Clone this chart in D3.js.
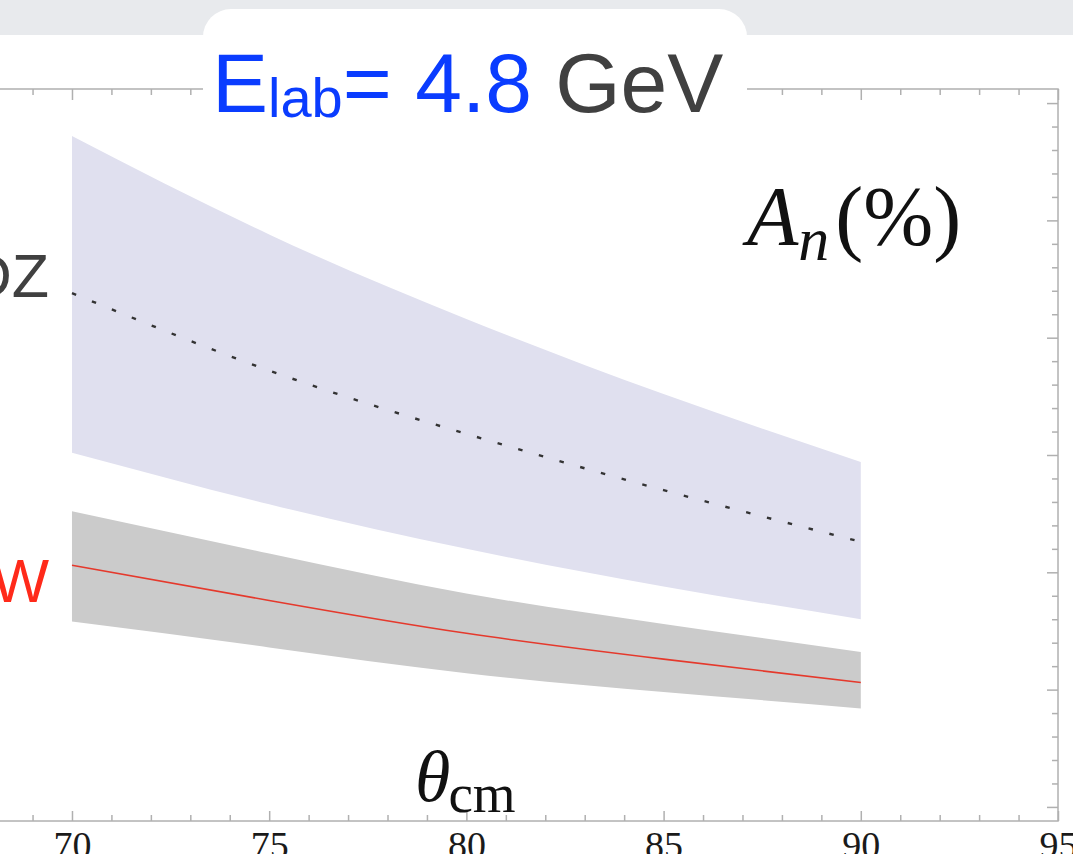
<!DOCTYPE html>
<html>
<head>
<meta charset="utf-8">
<script src="https://cdn.jsdelivr.net/npm/d3@7"></script>
<style>
  body { margin: 0; background: #fff; }
  svg { display: block; }
</style>
</head>
<body>
<div id="chart"></div>
<script>
// angle grid and the two bands
var thetaVals = [70, 75, 80, 85, 90];
var dzUpper = [2.86, 2.44, 2.08, 1.76, 1.47];
var dzLower = [1.51, 1.29, 1.10, 0.94, 0.80];
var dzCentral = [2.19, 1.86, 1.59, 1.35, 1.13];
var wUpper = [1.26, 1.08, 0.91, 0.78, 0.66];
var wLower = [0.79, 0.68, 0.57, 0.49, 0.42];
var wCentral = [1.03, 0.88, 0.74, 0.63, 0.53];
var xTickLabels = [70, 75, 80, 85, 90, 95];

var svgWidth = 1073;
var svgHeight = 854;

// plot frame (left edge runs off the page)
var frame = { left: -6.9, right: 1058, top: 89, bottom: 821 };

var svg = d3.select("#chart")
    .append("svg")
    .attr("width", svgWidth)
    .attr("height", svgHeight);

// slide background strip at the top
svg.append("rect")
    .attr("x", 0).attr("y", 0)
    .attr("width", svgWidth).attr("height", 35)
    .attr("fill", "#e8eaed");

var x = d3.scaleLinear().domain([68, 95]).range([frame.left, frame.right]);
var y = d3.scaleLinear().domain([-0.06, 3.06]).range([frame.bottom, frame.top]);

function rows(up, lo, mid) {
    return thetaVals.map(function(t, i) {
        return { t: t, up: up[i], lo: lo[i], mid: mid[i] };
    });
}
var dzData = rows(dzUpper, dzLower, dzCentral);
var wData = rows(wUpper, wLower, wCentral);

var area = d3.area()
    .x(d => x(d.t))
    .y0(d => y(d.lo))
    .y1(d => y(d.up))
    .curve(d3.curveNatural);

var line = d3.line()
    .x(d => x(d.t))
    .y(d => y(d.mid))
    .curve(d3.curveNatural);

// bands
svg.append("path").datum(dzData)
    .attr("d", area)
    .attr("fill", "#e0e0ef");

svg.append("path").datum(wData)
    .attr("d", area)
    .attr("fill", "#cbcbcb");

// central curves
svg.append("path").datum(dzData)
    .attr("d", line)
    .attr("fill", "none")
    .attr("stroke", "#333")
    .attr("stroke-width", 2.4)
    .attr("stroke-dasharray", "4.5,17");

svg.append("path").datum(wData)
    .attr("d", line)
    .attr("fill", "none")
    .attr("stroke", "#e5392c")
    .attr("stroke-width", 1.6);

// frame
var frameColor = "#b0b0b0";
svg.append("rect")
    .attr("x", frame.left).attr("y", frame.top)
    .attr("width", frame.right - frame.left)
    .attr("height", frame.bottom - frame.top)
    .attr("fill", "none")
    .attr("stroke", frameColor)
    .attr("stroke-width", 1.5);

var xMinor = d3.range(68, 96).filter(v => v % 5 !== 0);
var yMajor = d3.range(0, 3.01, 0.5);
var yMinor = d3.range(-0.0, 3.06, 0.1).filter(v => Math.abs(v * 2 - Math.round(v * 2)) > 0.01);

function styleAxis(g) {
    g.select(".domain").remove();
    g.selectAll(".tick line").attr("stroke", frameColor).attr("stroke-width", 1.5);
}

// bottom axis, ticks point inward
svg.append("g")
    .attr("transform", `translate(0, ${frame.bottom})`)
    .call(d3.axisBottom(x).tickValues(xTickLabels).tickSize(-10).tickPadding(10).tickFormat(d3.format("d")))
    .call(styleAxis)
    .call(g => g.selectAll("text")
        .attr("font-family", "'Liberation Serif', 'Times New Roman', serif")
        .attr("font-size", 38)
        .attr("fill", "#1a1a1a"));

svg.append("g")
    .attr("transform", `translate(0, ${frame.bottom})`)
    .call(d3.axisBottom(x).tickValues(xMinor).tickSize(-6).tickFormat(""))
    .call(styleAxis);

// top axis
svg.append("g")
    .attr("transform", `translate(0, ${frame.top})`)
    .call(d3.axisTop(x).tickValues(xTickLabels).tickSize(-11).tickFormat(""))
    .call(styleAxis);

svg.append("g")
    .attr("transform", `translate(0, ${frame.top})`)
    .call(d3.axisTop(x).tickValues(xMinor).tickSize(-6).tickFormat(""))
    .call(styleAxis);

// right axis
svg.append("g")
    .attr("transform", `translate(${frame.right}, 0)`)
    .call(d3.axisRight(y).tickValues(yMajor).tickSize(-11).tickFormat(""))
    .call(styleAxis);

svg.append("g")
    .attr("transform", `translate(${frame.right}, 0)`)
    .call(d3.axisRight(y).tickValues(yMinor).tickSize(-6).tickFormat(""))
    .call(styleAxis);

// white tab behind the title, breaks the top frame line
svg.append("rect")
    .attr("x", 203).attr("y", 9)
    .attr("width", 544).attr("height", 116)
    .attr("rx", 28)
    .attr("fill", "#fff");

// title
var title = svg.append("text")
    .attr("x", 212).attr("y", 112)
    .attr("font-family", "'Liberation Sans', Arial, sans-serif")
    .attr("font-size", 84);
title.append("tspan").attr("fill", "#0a3cff").text("E");
title.append("tspan").attr("fill", "#0a3cff").attr("font-size", 56).attr("dy", 5).text("lab");
title.append("tspan").attr("fill", "#0a3cff").attr("dy", -5).text("= 4.8");
title.append("tspan").attr("fill", "#404040").text(" GeV");

// series labels at the left edge
svg.append("text")
    .attr("x", 49).attr("y", 297)
    .attr("text-anchor", "end")
    .attr("font-family", "'Liberation Sans', Arial, sans-serif")
    .attr("font-size", 61)
    .attr("fill", "#404040")
    .text("DZ");

svg.append("text")
    .attr("x", 49).attr("y", 602)
    .attr("text-anchor", "end")
    .attr("font-family", "'Liberation Sans', Arial, sans-serif")
    .attr("font-size", 61)
    .attr("fill", "#ff2a1a")
    .text("W");

// A_n(%) label
var serif = "'Liberation Serif', 'Times New Roman', serif";
var anLabel = svg.append("text")
    .attr("x", 747).attr("y", 245)
    .attr("font-family", serif)
    .attr("font-size", 84)
    .attr("fill", "#111");
anLabel.append("tspan").attr("font-style", "italic").text("A");
anLabel.append("tspan").attr("font-style", "italic").attr("font-size", 62)
    .attr("dx", 0).attr("dy", 15).text("n");
anLabel.append("tspan").attr("dx", 6).attr("dy", -15).text("(%)");

// theta_cm axis label
var thLabel = svg.append("text")
    .attr("x", 415).attr("y", 801)
    .attr("font-family", serif)
    .attr("font-size", 72)
    .attr("fill", "#111");
thLabel.append("tspan").attr("font-style", "italic").text("θ");
thLabel.append("tspan").attr("font-size", 55).attr("dx", -2).attr("dy", 11).text("cm");
</script>
</body>
</html>
